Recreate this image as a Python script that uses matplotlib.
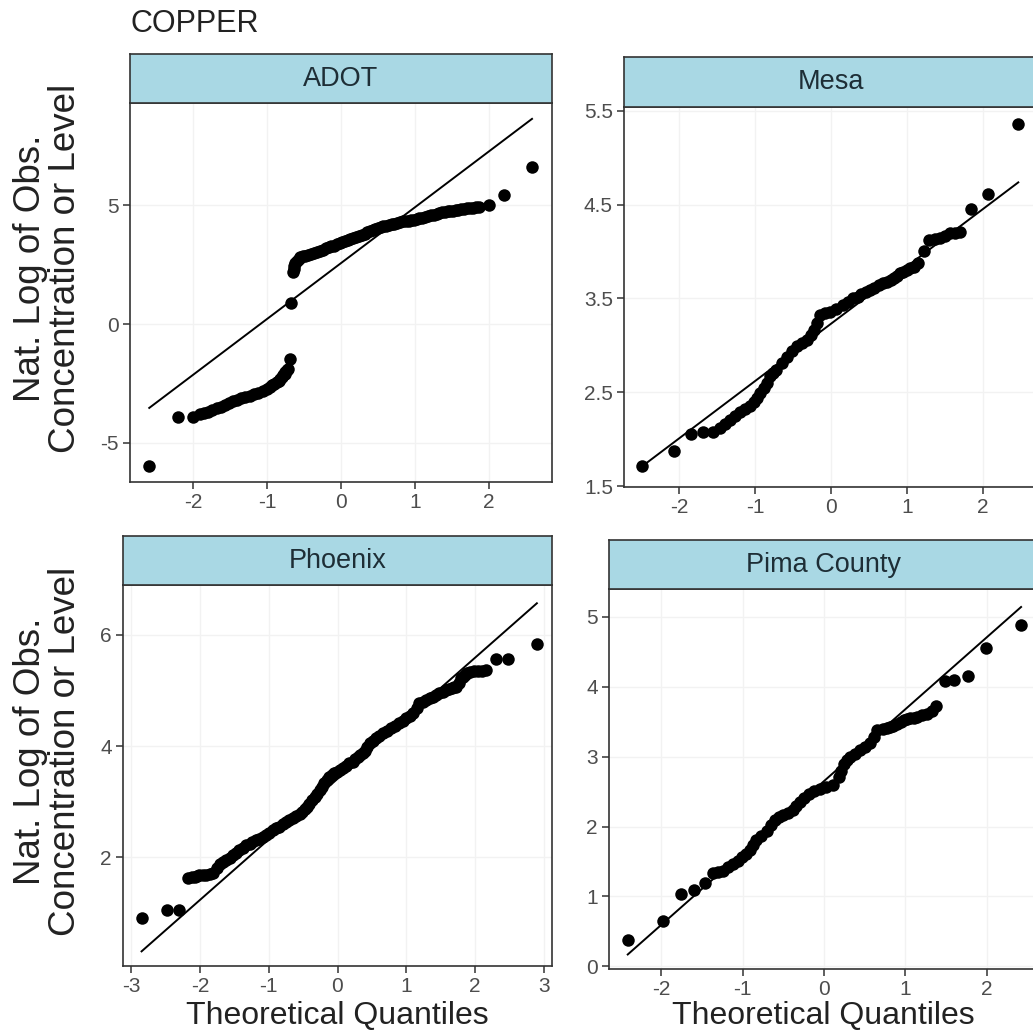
import matplotlib.pyplot as plt

W, H = 1033, 1034

adot_x = [-2.59, -2.20, -2.00, -1.90, -1.85, -1.80, -1.74, -1.68, -1.62, -1.57,
          -1.51, -1.46, -1.40, -1.35, -1.29, -1.23, -1.17, -1.12, -1.06, -1.00,
          -0.96, -0.93, -0.90, -0.87, -0.84, -0.82, -0.80, -0.78, -0.76, -0.75,
          -0.73, -0.72, -0.69, -0.67, -0.65, -0.64, -0.63, -0.62, -0.60, -0.57,
          -0.55, -0.51, -0.48, -0.44, -0.40, -0.36, -0.32, -0.28, -0.24, -0.20,
          -0.16, -0.13, -0.10, -0.06, -0.02, 0.02, 0.06, 0.09, 0.12, 0.16,
          0.20, 0.24, 0.28, 0.32, 0.35, 0.39, 0.43, 0.46, 0.50, 0.54,
          0.57, 0.61, 0.65, 0.69, 0.72, 0.76, 0.80, 0.84, 0.88, 0.92,
          0.95, 0.99, 1.02, 1.06, 1.10, 1.14, 1.18, 1.22, 1.25, 1.29,
          1.33, 1.37, 1.40, 1.44, 1.47, 1.51, 1.55, 1.58, 1.62, 1.66,
          1.70, 1.74, 1.78, 1.82, 1.86, 2.00, 2.20, 2.58]
adot_y = [-5.97, -3.90, -3.90, -3.80, -3.74, -3.68, -3.61, -3.54, -3.47, -3.40,
          -3.33, -3.25, -3.18, -3.12, -3.07, -3.02, -2.95, -2.88, -2.80, -2.72,
          -2.65, -2.58, -2.52, -2.45, -2.38, -2.30, -2.22, -2.15, -2.08, -2.00,
          -1.94, -1.88, -1.45, 0.90, 2.18, 2.32, 2.45, 2.55, 2.65, 2.74,
          2.80, 2.84, 2.88, 2.92, 2.95, 2.98, 3.02, 3.07, 3.12, 3.18,
          3.23, 3.27, 3.30, 3.35, 3.40, 3.45, 3.50, 3.54, 3.57, 3.62,
          3.66, 3.70, 3.74, 3.80, 3.86, 3.90, 3.95, 3.98, 4.02, 4.06,
          4.10, 4.13, 4.16, 4.19, 4.22, 4.25, 4.28, 4.31, 4.33, 4.35,
          4.37, 4.39, 4.41, 4.44, 4.47, 4.50, 4.54, 4.57, 4.60, 4.63,
          4.66, 4.69, 4.71, 4.73, 4.75, 4.77, 4.79, 4.81, 4.82, 4.84,
          4.86, 4.87, 4.88, 4.90, 4.92, 5.00, 5.42, 6.60]

mesa_x = [-2.49, -2.07, -1.85, -1.69, -1.56, -1.47, -1.40, -1.33, -1.26, -1.20,
          -1.13, -1.07, -1.02, -0.98, -0.93, -0.89, -0.85, -0.81, -0.76, -0.72,
          -0.65, -0.58, -0.51, -0.45, -0.38, -0.32, -0.27, -0.23, -0.19, -0.15,
          -0.08, -0.01, 0.07, 0.16, 0.22, 0.29, 0.35, 0.40, 0.46, 0.52,
          0.57, 0.63, 0.68, 0.74, 0.79, 0.83, 0.87, 0.91, 0.95, 1.00,
          1.04, 1.09, 1.15, 1.22, 1.29, 1.37, 1.44, 1.50, 1.57, 1.64,
          1.70, 1.85, 2.07, 2.47]
mesa_y = [1.71, 1.87, 2.05, 2.08, 2.08, 2.12, 2.16, 2.20, 2.25, 2.29,
          2.32, 2.35, 2.40, 2.44, 2.49, 2.54, 2.60, 2.67, 2.71, 2.74,
          2.81, 2.88, 2.94, 2.99, 3.03, 3.06, 3.11, 3.16, 3.24, 3.32,
          3.34, 3.36, 3.39, 3.43, 3.46, 3.50, 3.52, 3.55, 3.57, 3.59,
          3.61, 3.64, 3.66, 3.68, 3.70, 3.72, 3.74, 3.77, 3.78, 3.80,
          3.82, 3.84, 3.88, 4.00, 4.12, 4.13, 4.14, 4.17, 4.20, 4.20,
          4.21, 4.45, 4.61, 5.36]

phoenix_x = [-2.85, -2.48, -2.30, -2.17, -2.12, -2.08, -2.04, -2.01, -1.96, -1.91,
             -1.86, -1.81, -1.76, -1.71, -1.66, -1.62, -1.57, -1.52, -1.47, -1.43,
             -1.38, -1.33, -1.28, -1.24, -1.19, -1.14, -1.09, -1.04, -0.99, -0.94,
             -0.89, -0.85, -0.80, -0.75, -0.70, -0.65, -0.60, -0.55, -0.51, -0.48,
             -0.44, -0.41, -0.37, -0.33, -0.30, -0.26, -0.22, -0.19, -0.15, -0.12,
             -0.08, -0.05, -0.01, 0.03, 0.08, 0.12, 0.17, 0.22, 0.26, 0.30,
             0.33, 0.37, 0.40, 0.43, 0.47, 0.51, 0.56, 0.61, 0.66, 0.72,
             0.78, 0.84, 0.90, 0.95, 1.00, 1.05, 1.10, 1.15, 1.19, 1.24,
             1.29, 1.34, 1.39, 1.43, 1.48, 1.53, 1.58, 1.62, 1.66, 1.70,
             1.73, 1.77, 1.80, 1.83, 1.86, 1.89, 1.92, 1.98, 2.04, 2.10,
             2.16, 2.30, 2.48, 2.90]
phoenix_y = [0.90, 1.05, 1.05, 1.63, 1.64, 1.65, 1.66, 1.67, 1.67, 1.68,
             1.69, 1.72, 1.80, 1.88, 1.92, 1.95, 1.99, 2.03, 2.08, 2.12,
             2.17, 2.21, 2.24, 2.27, 2.30, 2.33, 2.37, 2.40, 2.44, 2.48,
             2.52, 2.55, 2.59, 2.63, 2.67, 2.70, 2.74, 2.78, 2.82, 2.86,
             2.91, 2.96, 3.02, 3.08, 3.14, 3.20, 3.27, 3.33, 3.39, 3.45,
             3.48, 3.51, 3.54, 3.57, 3.61, 3.65, 3.69, 3.72, 3.76, 3.80,
             3.84, 3.87, 3.92, 3.98, 4.05, 4.09, 4.14, 4.19, 4.23, 4.28,
             4.32, 4.37, 4.41, 4.46, 4.50, 4.55, 4.59, 4.68, 4.77, 4.80,
             4.83, 4.86, 4.89, 4.92, 4.95, 4.98, 5.01, 5.03, 5.04, 5.06,
             5.07, 5.14, 5.22, 5.25, 5.28, 5.31, 5.34, 5.35, 5.36, 5.36,
             5.37, 5.57, 5.57, 5.84]

pima_x = [-2.41, -1.98, -1.75, -1.60, -1.46, -1.36, -1.30, -1.24, -1.18, -1.12,
          -1.06, -1.01, -0.96, -0.91, -0.87, -0.83, -0.77, -0.70, -0.65, -0.60,
          -0.55, -0.50, -0.44, -0.38, -0.34, -0.30, -0.25, -0.19, -0.12, -0.05,
          0.03, 0.11, 0.18, 0.21, 0.24, 0.28, 0.32, 0.38, 0.44, 0.50,
          0.57, 0.62, 0.65, 0.73, 0.77, 0.81, 0.85, 0.90, 0.94, 0.98,
          1.02, 1.06, 1.10, 1.14, 1.20, 1.26, 1.32, 1.37, 1.48, 1.60,
          1.77, 1.99, 2.42]
pima_y = [0.38, 0.65, 1.04, 1.09, 1.19, 1.33, 1.35, 1.37, 1.42, 1.47,
          1.51, 1.56, 1.61, 1.66, 1.73, 1.80, 1.87, 1.94, 2.02, 2.09,
          2.13, 2.16, 2.20, 2.23, 2.29, 2.35, 2.41, 2.47, 2.51, 2.54,
          2.56, 2.59, 2.71, 2.80, 2.90, 2.95, 2.99, 3.04, 3.09, 3.14,
          3.19, 3.28, 3.38, 3.40, 3.41, 3.42, 3.44, 3.47, 3.50, 3.52,
          3.54, 3.55, 3.56, 3.57, 3.59, 3.61, 3.66, 3.73, 4.09, 4.10,
          4.16, 4.56, 4.88]

# qq reference lines: (intercept, slope)
adot_line = (2.56, 2.35)
mesa_line = (3.23, 0.61)
phoenix_line = (3.41, 1.09)
pima_line = (2.65, 1.03)

panel_names = ['ADOT', 'Mesa', 'Phoenix', 'Pima County']
panel_x = [adot_x, mesa_x, phoenix_x, pima_x]
panel_y = [adot_y, mesa_y, phoenix_y, pima_y]
panel_lines = [adot_line, mesa_line, phoenix_line, pima_line]

x_ticks = [[-2, -1, 0, 1, 2], [-2, -1, 0, 1, 2],
           [-3, -2, -1, 0, 1, 2, 3], [-2, -1, 0, 1, 2]]
y_ticks = [[-5, 0, 5], [1.5, 2.5, 3.5, 4.5, 5.5], [2, 4, 6], [0, 1, 2, 3, 4, 5]]
y_tick_labels = [['-5', '0', '5'], ['1.5', '2.5', '3.5', '4.5', '5.5'],
                 ['2', '4', '6'], ['0', '1', '2', '3', '4', '5']]
x_limits = [(-2.85, 2.85), (-2.73, 2.73), (-3.12, 3.12), (-2.64, 2.64)]
y_limits = [(-6.64, 9.29), (1.49, 5.54), (0.04, 6.90), (-0.04, 5.40)]

# pixel boxes: left, right, top, bottom, strip top
boxes = [(130, 552, 103, 482, 54), (624, 1038, 107, 487, 57),
         (123, 552, 585, 966, 536), (609, 1039, 589, 969, 540)]

STRIP = '#a9d8e4'
EDGE = '#333333'
TICKC = '#4d4d4d'

plt.rcParams['font.family'] = ['Liberation Sans', 'DejaVu Sans']
plt.rcParams['axes.unicode_minus'] = False

fig = plt.figure(figsize=(W / 100, H / 100), dpi=100)
fig.patch.set_facecolor('white')

for i in range(4):
    l, r, t, b, st = boxes[i]
    ax = fig.add_axes([l / W, 1 - b / H, (r - l) / W, (b - t) / H])
    ax.set_xlim(*x_limits[i])
    ax.set_ylim(*y_limits[i])

    ax.set_xticks(x_ticks[i])
    ax.set_xticklabels([str(v) for v in x_ticks[i]])
    ax.set_yticks(y_ticks[i])
    ax.set_yticklabels(y_tick_labels[i])
    # faint grid
    ax.grid(True, color='#f2f2f2', lw=1.0)
    ax.set_axisbelow(True)

    # qq line over the data range
    a, s = panel_lines[i]
    x0, x1 = min(panel_x[i]), max(panel_x[i])
    ax.plot([x0, x1], [a + s * x0, a + s * x1], color='black', lw=1.4, zorder=2)
    ax.plot(panel_x[i], panel_y[i], 'o', color='black', markersize=9,
            markeredgewidth=0, zorder=3)

    for sp in ax.spines.values():
        sp.set_color(EDGE)
        sp.set_linewidth(1.2)
    ax.tick_params(axis='both', colors=EDGE, length=5, width=1.1,
                   labelsize=15, labelcolor=TICKC, pad=3)

    # facet strip
    sax = fig.add_axes([l / W, 1 - t / H, (r - l) / W, (t - st) / H])
    sax.set_facecolor(STRIP)
    sax.set_xticks([])
    sax.set_yticks([])
    for sp in sax.spines.values():
        sp.set_color(EDGE)
        sp.set_linewidth(1.2)
    sax.text(0.5, 0.5, panel_names[i], ha='center', va='center',
             fontsize=19.5, color='#1e2e36', transform=sax.transAxes)

fig.text(130 / W, 1 - 32 / H, 'COPPER', fontsize=22, color='#222222',
         ha='left', va='baseline')

ylab = 'Nat. Log of Obs.\nConcentration or Level'
fig.text(48 / W, 1 - 268 / H, ylab, rotation=90, fontsize=26.5, color='#222222',
         ha='center', va='center', multialignment='center', linespacing=1.0)
fig.text(48 / W, 1 - 751 / H, ylab, rotation=90, fontsize=26.5, color='#222222',
         ha='center', va='center', multialignment='center', linespacing=1.0)

fig.text(337 / W, 1 - 1024 / H, 'Theoretical Quantiles', fontsize=23,
         color='#222222', ha='center', va='baseline')
fig.text(823 / W, 1 - 1024 / H, 'Theoretical Quantiles', fontsize=23,
         color='#222222', ha='center', va='baseline')

fig.savefig('out.png', dpi=100, facecolor='white')
